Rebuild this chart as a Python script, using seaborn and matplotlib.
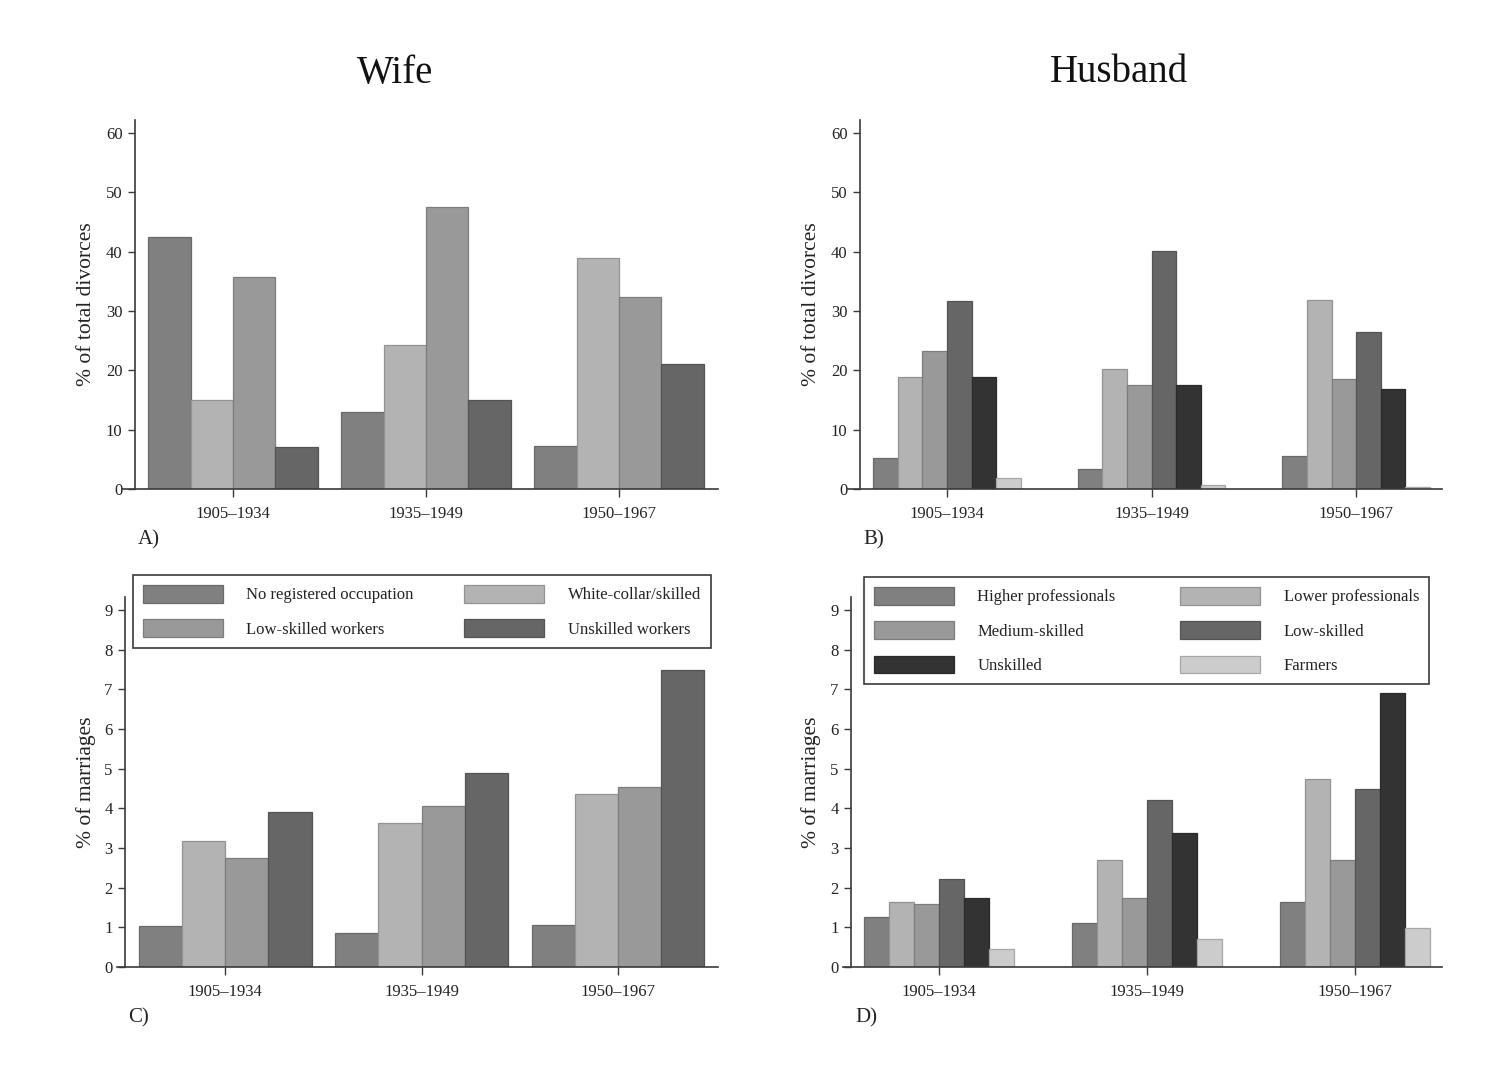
import matplotlib
matplotlib.use("Agg")
import matplotlib.pyplot as plt
import matplotlib.colors as mcolors
from matplotlib.patches import Patch
import numpy as np
import pandas as pd
import seaborn as sns

# ---- data -------------------------------------------------------------
periods = ["1905\u20131934", "1935\u20131949", "1950\u20131967"]

wife_groups = ["No registered occupation", "White-collar/skilled",
               "Low-skilled workers", "Unskilled workers"]
wife_colors = ["#808080", "#b3b3b3", "#999999", "#666666"]

husband_groups = ["Higher professionals", "Lower professionals", "Medium-skilled",
                  "Low-skilled", "Unskilled", "Farmers"]
husband_colors = ["#808080", "#b3b3b3", "#999999", "#666666", "#333333", "#cccccc"]

# % of total divorces (wife's occupation), one list per period
wife_div_1905 = [42.5, 15.0, 35.7, 7.1]
wife_div_1935 = [13.0, 24.3, 47.5, 15.0]
wife_div_1950 = [7.3, 39.0, 32.3, 21.1]

# % of total divorces (husband's occupation)
husb_div_1905 = [5.2, 18.8, 23.3, 31.7, 18.8, 1.8]
husb_div_1935 = [3.4, 20.2, 17.5, 40.2, 17.5, 0.7]
husb_div_1950 = [5.5, 31.8, 18.5, 26.5, 16.8, 0.3]

# % of marriages ending in divorce (wife's occupation)
wife_mar_1905 = [1.04, 3.18, 2.76, 3.90]
wife_mar_1935 = [0.86, 3.62, 4.06, 4.90]
wife_mar_1950 = [1.07, 4.36, 4.53, 7.48]

# % of marriages ending in divorce (husband's occupation)
husb_mar_1905 = [1.27, 1.63, 1.59, 2.21, 1.74, 0.46]
husb_mar_1935 = [1.12, 2.70, 1.75, 4.22, 3.39, 0.70]
husb_mar_1950 = [1.64, 4.73, 2.70, 4.49, 6.92, 0.98]


def long_table(groups, rows):
    recs = []
    for period, vals in zip(periods, rows):
        for g, v in zip(groups, vals):
            recs.append({"period": period, "group": g, "value": v})
    return pd.DataFrame(recs)


df_a = long_table(wife_groups, [wife_div_1905, wife_div_1935, wife_div_1950])
df_b = long_table(husband_groups, [husb_div_1905, husb_div_1935, husb_div_1950])
df_c = long_table(wife_groups, [wife_mar_1905, wife_mar_1935, wife_mar_1950])
df_d = long_table(husband_groups, [husb_mar_1905, husb_mar_1935, husb_mar_1950])

# ---- style ------------------------------------------------------------
sns.set_theme(style="white")
plt.rcParams["font.family"] = ["Liberation Serif", "DejaVu Serif"]
AXCOL = "#3a3a3a"

W, H = 1488, 1091
fig = plt.figure(figsize=(W / 100, H / 100), dpi=100)


def rect(x0, x1, ybot, ytop):
    return [x0 / W, 1 - ybot / H, (x1 - x0) / W, (ybot - ytop) / H]


def darker(c, f=0.82):
    r, g, b = mcolors.to_rgb(c)
    return (r * f, g * f, b * f)


def panel(r, df, groups, colors, width, xlim, spine_x, ylim, yticks, ylabel, ylab_x):
    ax = fig.add_axes(r)
    sns.barplot(data=df, x="period", y="value", hue="group", order=periods,
                hue_order=groups, palette=colors, width=width, saturation=1,
                errorbar=None, legend=False, ax=ax)
    for p in ax.patches:
        p.set_edgecolor(darker(p.get_facecolor()))
        p.set_linewidth(0.9)
    ax.set_xlim(*xlim)
    ax.set_ylim(*ylim)
    ax.set_yticks(yticks)
    ax.set_xlabel("")
    ax.set_ylabel(ylabel, fontsize=15.5, color="#222222")
    ax.yaxis.set_label_coords(ylab_x, 0.5)
    for s in ("top", "right"):
        ax.spines[s].set_visible(False)
    ax.spines["left"].set_position(("data", spine_x))
    for s in ("left", "bottom"):
        ax.spines[s].set_color(AXCOL)
        ax.spines[s].set_linewidth(1.2)
    ax.tick_params(axis="both", which="both", direction="out", length=5, width=1,
                   color=AXCOL, labelsize=12, labelcolor="#222222", pad=4,
                   bottom=True, left=True)
    ax.tick_params(axis="x", length=6, pad=6)
    ax.set_facecolor("none")
    return ax


ax_a = panel(rect(122, 718, 489, 120), df_a, wife_groups, wife_colors, 0.88,
             (-0.575, 2.513), -0.508, (0, 62.2), range(0, 61, 10),
             "% of total divorces", -0.0436)
ax_b = panel(rect(848, 1442, 489, 120), df_b, husband_groups, husband_colors, 0.72,
             (-0.484, 2.42), -0.425, (0, 62.2), range(0, 61, 10),
             "% of total divorces", -0.0455)
ax_c = panel(rect(117, 718, 967, 597), df_c, wife_groups, wife_colors, 0.88,
             (-0.55, 2.509), -0.509, (0, 9.33), range(0, 10),
             "% of marriages", -0.035)
ax_d = panel(rect(843, 1442, 967, 597), df_d, husband_groups, husband_colors, 0.72,
             (-0.4615, 2.418), -0.423, (0, 9.33), range(0, 10),
             "% of marriages", -0.0367)


def add_legend(groups, colors, order, box):
    x0, x1, ytop, ybot = box
    handles = [Patch(facecolor=colors[i], edgecolor=darker(colors[i]),
                     linewidth=0.9, label=groups[i]) for i in order]
    leg = fig.legend(handles=handles, loc="upper left", ncol=2, mode="expand",
                     bbox_to_anchor=(x0 / W, 1 - ybot / H, (x1 - x0) / W, (ybot - ytop) / H),
                     bbox_transform=fig.transFigure, borderaxespad=0,
                     fontsize=12, handlelength=4.8, handleheight=1.25,
                     handletextpad=1.4, labelspacing=0.95, borderpad=0.6,
                     frameon=True, fancybox=False, shadow=False, framealpha=1)
    fr = leg.get_frame()
    fr.set_edgecolor(AXCOL)
    fr.set_linewidth(1.2)
    for t in leg.get_texts():
        t.set_color("#222222")
    return leg


add_legend(wife_groups, wife_colors, [0, 2, 1, 3], (133, 711, 575, 650))
add_legend(husband_groups, husband_colors, [0, 2, 4, 1, 3, 5], (864, 1429, 577, 688))

# column headings and panel letters
fig.text(395 / W, 1 - 73 / H, "Wife", ha="center", va="center", fontsize=28, color="#111111")
fig.text(1119 / W, 1 - 73 / H, "Husband", ha="center", va="center", fontsize=28, color="#111111")
for lbl, x, y in [("A)", 138, 540), ("B)", 863, 540), ("C)", 128, 1018), ("D)", 855, 1018)]:
    fig.text(x / W, 1 - y / H, lbl, ha="left", va="center", fontsize=15, color="#222222")

fig.savefig("out.png", dpi=100, facecolor="white")
